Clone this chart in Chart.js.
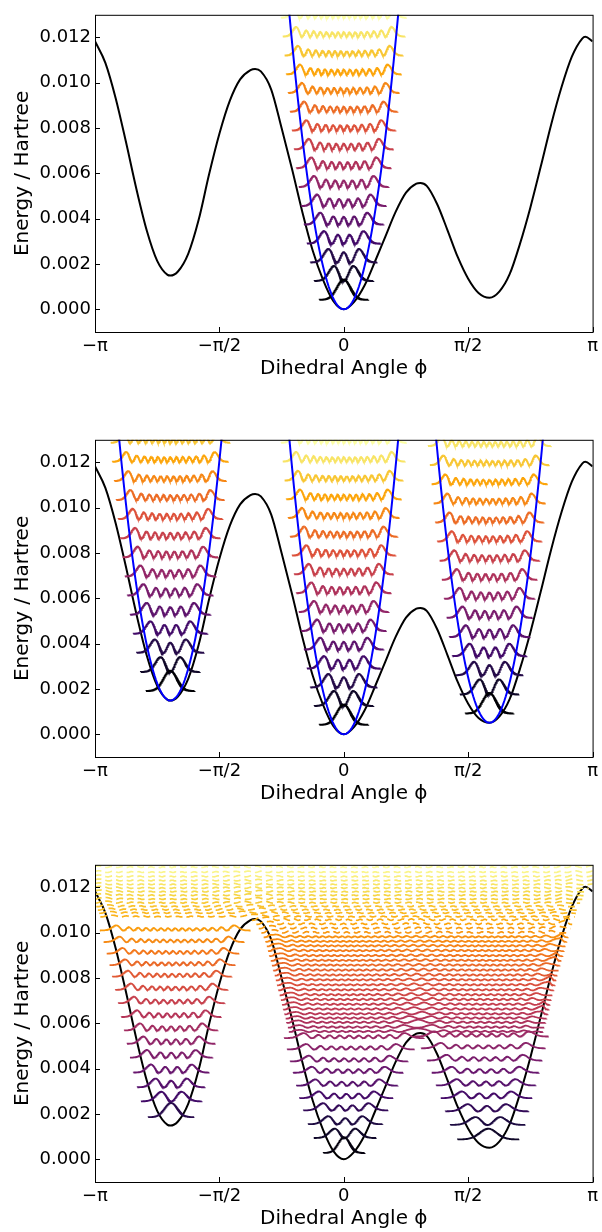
<!DOCTYPE html>
<html>
<head>
<meta charset="utf-8">
<script src="https://cdn.jsdelivr.net/npm/chart.js@4.4.0/dist/chart.umd.min.js"></script>
<style>
  html, body { margin: 0; padding: 0; background: #fff; }
  #wrap { position: relative; width: 602px; height: 1232px; }
  canvas { position: absolute; left: 0; }
</style>
</head>
<body>
<div id="wrap">
  <canvas id="c1" width="602" height="382" style="top:0px"></canvas>
  <canvas id="c2" width="602" height="382" style="top:425px"></canvas>
  <canvas id="c3" width="602" height="382" style="top:850px"></canvas>
</div>
<script>
(function () {
  // axes
  var xTicks = [-Math.PI, -Math.PI / 2, 0, Math.PI / 2, Math.PI];
  var xTickLabels = ['−π', '−π/2', '0', 'π/2', 'π'];
  var yTicks = [0, 0.002, 0.004, 0.006, 0.008, 0.010, 0.012];

  // torsional potential (rad, Hartree)
  var potPhi = [-3.1416, -3.0107, -2.8798, -2.7489, -2.618, -2.4871, -2.3562, -2.2253, -2.19, -2.0944, -1.9635, -1.8326,
    -1.7017, -1.5708, -1.4399, -1.309, -1.1781, -1.12, -1.0472, -0.9163, -0.7854, -0.6545, -0.5236, -0.3927, -0.2618,
    -0.1309, 0, 0.1309, 0.2618, 0.3927, 0.5236, 0.6545, 0.7854, 0.9163, 0.967, 1.0472, 1.1781, 1.309, 1.4399, 1.5708,
    1.7017, 1.84, 1.9635, 2.0944, 2.2253, 2.3562, 2.4871, 2.618, 2.7489, 2.8798, 3.0107, 3.05, 3.1416];
  var potE = [0.01183, 0.01088, 0.00931, 0.00736, 0.00530, 0.00347, 0.00214, 0.00152, 0.00149, 0.00167, 0.00246, 0.00395,
    0.00595, 0.00775, 0.00920, 0.01015, 0.01056, 0.01061, 0.01050, 0.00970, 0.00800, 0.00620, 0.00430, 0.00260, 0.00130,
    0.00036, 0, 0.00033, 0.00105, 0.00210, 0.00320, 0.00430, 0.00515, 0.00555, 0.00558, 0.00545, 0.00465, 0.00350, 0.00230, 0.00135,
    0.00072, 0.00051, 0.00078, 0.00155, 0.00290, 0.00450, 0.00630, 0.00815, 0.00980, 0.01115, 0.01195, 0.01203, 0.01183];

  // harmonic wells (left, centre, right): position of minimum, energy of minimum, curvature
  var wellPhi = [-2.19, 0, 1.84];
  var wellMin = [0.00149, 0, 0.00051];
  var harmK = 0.0276;

  // harmonic levels (panels 1 and 2)
  var p1Centre = [0.00042, 0.00125, 0.00207, 0.00290, 0.00374, 0.00456, 0.00540, 0.00623, 0.00706, 0.00789, 0.00872, 0.00955, 0.01037, 0.01120, 0.01204, 0.01287];
  var p2Left = [0.00191, 0.00275, 0.00360, 0.00444, 0.00528, 0.00613, 0.00697, 0.00781, 0.00865, 0.00950, 0.01034, 0.01118, 0.01203, 0.01287];
  var p2Right = [0.00092, 0.00176, 0.00261, 0.00345, 0.00429, 0.00514, 0.00598, 0.00682, 0.00766, 0.00851, 0.00935, 0.01019, 0.01104, 0.01188, 0.01272];

  // full-potential levels (panel 3)
  var p3Left = [0.00186, 0.00256, 0.00318, 0.00383, 0.00449, 0.00510, 0.00569, 0.00628, 0.00689, 0.00748, 0.00806, 0.00857, 0.00908, 0.00959, 0.01010];
  var p3Centre = [0.00028, 0.00094, 0.00155, 0.00216, 0.00270, 0.00325, 0.00382, 0.00432, 0.00485, 0.00535];
  var p3Right = [0.00088, 0.00152, 0.00212, 0.00270, 0.00326, 0.00382, 0.00436, 0.00490, 0.00542];
  var p3Mid = [0.00562, 0.00581, 0.00602, 0.00621, 0.00640, 0.00661, 0.00682, 0.00703, 0.00724, 0.00746, 0.00768, 0.00790, 0.00811,
    0.00833, 0.00855, 0.00876, 0.00897, 0.00919, 0.00940, 0.00960, 0.00980, 0.00999, 0.01018, 0.01037, 0.01055];
  var p3Top = [0.01070, 0.01086, 0.01100, 0.01115, 0.01131, 0.01147, 0.01164, 0.01180, 0.01196, 0.01212, 0.01229, 0.01247, 0.01266, 0.01288];

  var infernoStops = ['#000004', '#160b39', '#420a68', '#6a176e', '#932667', '#bc3754', '#dd513a', '#f37819', '#fca50a', '#f6d746', '#fcffa4'];
  var waveScale12 = 0.000196, waveScale3 = 0.00013;

  Chart.defaults.font.family = '"DejaVu Sans", sans-serif';
  Chart.defaults.color = '#000';

  function hex(c) { return [parseInt(c.substr(1, 2), 16), parseInt(c.substr(3, 2), 16), parseInt(c.substr(5, 2), 16)]; }
  function inferno(t) {
    t = Math.max(0, Math.min(1, t));
    var s = t * 10, i = Math.min(9, Math.floor(s)), f = s - i;
    var a = hex(infernoStops[i]), b = hex(infernoStops[i + 1]);
    return 'rgb(' + a.map(function (v, k) { return Math.round(v + f * (b[k] - v)); }).join(',') + ')';
  }

  function V(x) {
    while (x < -Math.PI) x += 2 * Math.PI;
    while (x > Math.PI) x -= 2 * Math.PI;
    for (var i = 1; i < potPhi.length; i++) {
      if (x <= potPhi[i]) {
        var t = (x - potPhi[i - 1]) / (potPhi[i] - potPhi[i - 1]);
        return potE[i - 1] + t * (potE[i] - potE[i - 1]);
      }
    }
    return potE[potE.length - 1];
  }
  function turning(E, x0) {
    var a = x0, b = x0, st = 0.002;
    while (a > -Math.PI && V(a - st) < E) a -= st;
    while (b < Math.PI && V(b + st) < E) b += st;
    return [a, b];
  }

  function hermDens(n, xi) {
    var p0 = Math.pow(Math.PI, -0.25) * Math.exp(-xi * xi / 2);
    if (n === 0) return p0 * p0;
    var p1 = Math.SQRT2 * xi * p0;
    for (var k = 1; k < n; k++) {
      var p2 = Math.sqrt(2 / (k + 1)) * xi * p1 - Math.sqrt(k / (k + 1)) * p0;
      p0 = p1; p1 = p2;
    }
    return p1 * p1;
  }
  // |psi_n|^2 placed on level E, stretched so its turning points sit at m +- h
  function hermLevel(E, n, m, h, scale) {
    var r = Math.sqrt(2 * n + 1), xiMax = r;
    for (var z = r; z < r + 5; z += 0.02) if (hermDens(n, z) >= 1e-3) xiMax = z;
    var pts = [], N = 260;
    for (var i = 0; i <= N; i++) {
      var xi = -xiMax + 2 * xiMax * i / N;
      pts.push({ x: m + xi * h / r, y: E + scale * hermDens(n, xi) * r / h });
    }
    return pts;
  }
  // semiclassical density for levels above the barriers
  var cWkb = 2 * Math.sqrt(harmK) / (p1Centre[1] - p1Centre[0]);
  function wkbLevel(E, a, b, scale) {
    var pad = 0.08, N = 700, x0 = a - pad, x1 = b + pad, dx = (x1 - x0) / N;
    var k0 = cWkb * Math.sqrt(0.0005), phase = 0, xs = [], rs = [], first = -1, last = -1;
    for (var i = 0; i <= N; i++) {
      var x = x0 + i * dx, r = NaN;
      if (x >= a && x <= b) {
        var k = cWkb * Math.sqrt(Math.max(E - V(x), 0));
        phase += k * dx;
        var cs = Math.cos(phase - Math.PI / 4);
        r = cs * cs / Math.sqrt(k * k + k0 * k0);
        if (first < 0) first = i;
        last = i;
      }
      xs.push(x); rs.push(r);
    }
    for (var j = 0; j <= N; j++) {
      if (j < first) rs[j] = rs[first] * Math.exp(-Math.pow((xs[first] - xs[j]) / 0.035, 2));
      else if (j > last) rs[j] = rs[last] * Math.exp(-Math.pow((xs[j] - xs[last]) / 0.035, 2));
    }
    var tot = 0;
    rs.forEach(function (v) { tot += v * dx; });
    return xs.map(function (x, j) { return { x: x, y: E + scale * rs[j] / tot }; });
  }

  function potSet() {
    return {
      data: potPhi.map(function (x, i) { return { x: x, y: potE[i] }; }),
      borderColor: '#000', borderWidth: 2, cubicInterpolationMode: 'monotone', order: 3
    };
  }
  function parabolaSet(w) {
    var half = Math.sqrt((0.0135 - wellMin[w]) / harmK), pts = [];
    for (var j = 0; j <= 80; j++) {
      var x = wellPhi[w] - half + 2 * half * j / 80;
      pts.push({ x: x, y: wellMin[w] + harmK * (x - wellPhi[w]) * (x - wellPhi[w]) });
    }
    return { data: pts, borderColor: '#0000ff', borderWidth: 2, order: 0 };
  }
  function waveSet(pts, color, width, dash) {
    return { data: pts, borderColor: color, borderWidth: width, borderDash: dash || [], order: 1 };
  }
  function harmonicWaves(levels, w) {
    return levels.map(function (E, n) {
      var h = Math.sqrt((E - wellMin[w]) / harmK);
      return waveSet(hermLevel(E, n, wellPhi[w], h, waveScale12), inferno(n / 15), 2);
    });
  }
  function boundWaves(levels, w) {
    return levels.map(function (E, n) {
      var tp = turning(E, wellPhi[w]);
      return waveSet(hermLevel(E, n, (tp[0] + tp[1]) / 2, (tp[1] - tp[0]) / 2, waveScale3), inferno(E / 0.013), 1.8);
    });
  }
  function freeWaves(levels) {
    return levels.map(function (E) {
      var tp = turning(E, 0);
      return waveSet(wkbLevel(E, tp[0], tp[1], waveScale3), inferno(E / 0.013), 1.7, E > 0.0098 ? [7, 4] : null);
    });
  }

  var framePlugin = {
    id: 'frame',
    afterDraw: function (chart) {
      var ctx = chart.ctx, a = chart.chartArea, xs = chart.scales.x, ys = chart.scales.y;
      ctx.save();
      ctx.strokeStyle = '#000';
      ctx.lineWidth = 1;
      ctx.strokeRect(a.left + 0.5, a.top + 0.5, a.right - a.left, a.bottom - a.top);
      ctx.beginPath();
      yTicks.forEach(function (v) {
        var y = Math.round(ys.getPixelForValue(v)) + 0.5;
        ctx.moveTo(a.left, y); ctx.lineTo(a.left + 5, y);
      });
      xTicks.forEach(function (v) {
        var x = Math.round(xs.getPixelForValue(v)) + 0.5;
        ctx.moveTo(x, a.bottom); ctx.lineTo(x, a.bottom - 5);
      });
      ctx.stroke();
      ctx.restore();
    }
  };

  function makeChart(id, padTop, datasets) {
    datasets.forEach(function (d) { d.pointRadius = 0; d.fill = false; d.clip = 0; });
    new Chart(document.getElementById(id), {
      type: 'line',
      data: { datasets: datasets },
      options: {
        responsive: false, animation: false, events: [],
        layout: { padding: { top: padTop, right: 6, bottom: 0, left: 0 } },
        plugins: { legend: { display: false }, tooltip: { enabled: false } },
        scales: {
          x: {
            type: 'linear', min: -Math.PI, max: Math.PI,
            grid: { display: false, drawTicks: false }, border: { display: false },
            afterBuildTicks: function (s) { s.ticks = xTicks.map(function (v) { return { value: v }; }); },
            afterFit: function (s) { s.height = 50; },
            ticks: {
              autoSkip: false, maxRotation: 0, padding: 4, font: { size: 18 },
              callback: function (v) {
                var best = 0;
                xTicks.forEach(function (t, i) { if (Math.abs(t - v) < Math.abs(xTicks[best] - v)) best = i; });
                return xTickLabels[best];
              }
            },
            title: { display: true, text: 'Dihedral Angle ϕ', font: { size: 20 }, padding: { top: 0, bottom: 1 } }
          },
          y: {
            min: -0.001, max: 0.013,
            grid: { display: false, drawTicks: false }, border: { display: false },
            afterBuildTicks: function (s) { s.ticks = yTicks.map(function (v) { return { value: v }; }); },
            afterFit: function (s) { s.width = 95; },
            ticks: { autoSkip: false, padding: 4, font: { size: 18 }, callback: function (v) { return v.toFixed(3); } },
            title: { display: true, text: 'Energy / Hartree', font: { size: 20 }, padding: { top: 10.5, bottom: 0 } }
          }
        }
      },
      plugins: [framePlugin]
    });
  }

  makeChart('c1', 13, [potSet(), parabolaSet(1)].concat(harmonicWaves(p1Centre, 1)));

  makeChart('c2', 12, [potSet(), parabolaSet(0), parabolaSet(1), parabolaSet(2)]
    .concat(harmonicWaves(p2Left, 0), harmonicWaves(p1Centre, 1), harmonicWaves(p2Right, 2)));

  makeChart('c3', 12, [potSet()]
    .concat(boundWaves(p3Left, 0), boundWaves(p3Centre, 1), boundWaves(p3Right, 2), freeWaves(p3Mid), freeWaves(p3Top)));
})();
</script>
</body>
</html>
